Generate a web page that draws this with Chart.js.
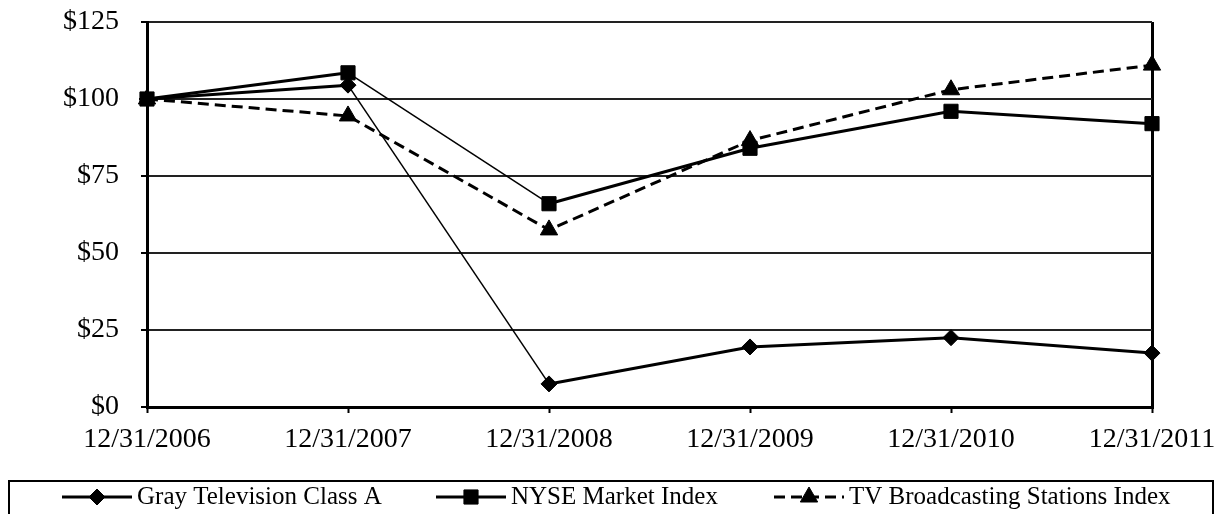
<!DOCTYPE html>
<html>
<head>
  <meta charset="UTF-8">
  <title>Cumulative Total Return</title>
  <script src="https://cdn.jsdelivr.net/npm/chart.js"></script>
  <style>
    body { margin: 0; background: #fff; }
  </style>
</head>
<body>
  <canvas id="returnChart" width="1221" height="514"></canvas>

  <script>
    const dates = ['12/31/2006', '12/31/2007', '12/31/2008', '12/31/2009', '12/31/2010', '12/31/2011'];
    const grayTv = [100, 104.5, 7.5, 19.5, 22.5, 17.5];
    const nyseIndex = [100, 108.5, 66, 84, 96, 92];
    const tvStations = [100, 94.5, 57.5, 86.5, 103, 111];

    const serif = '"Liberation Serif", "Times New Roman", serif';

    // legend drawn inside a box under the axis, line sample + marker + text
    const boxLegend = {
      id: 'boxLegend',
      afterDraw(chart) {
        const ctx = chart.ctx;
        const starts = [62, 436, 774];
        const y = 497;
        ctx.save();
        ctx.strokeStyle = '#000';
        ctx.lineWidth = 2;
        ctx.strokeRect(9, 481, 1204, 60);
        chart.data.datasets.forEach((ds, i) => {
          const x0 = starts[i];
          ctx.strokeStyle = '#000';
          ctx.fillStyle = '#000';
          ctx.lineWidth = 3;
          ctx.setLineDash(ds.borderDash || []);
          ctx.beginPath();
          ctx.moveTo(x0, y);
          ctx.lineTo(x0 + 70, y);
          ctx.stroke();
          ctx.setLineDash([]);
          ctx.lineWidth = 1;
          Chart.helpers.drawPoint(ctx, {
            pointStyle: ds.pointStyle,
            radius: ds.pointRadius,
            rotation: 0,
            borderWidth: 1
          }, x0 + 35, y);
          ctx.font = '25px ' + serif;
          ctx.textBaseline = 'middle';
          ctx.fillText(ds.label, x0 + 75, y);
        });
        ctx.restore();
      }
    };

    const thinSteep = w => ({ borderWidth: c => c.p0DataIndex === 1 ? 1.5 : w });

    new Chart(document.getElementById('returnChart'), {
      type: 'line',
      data: {
        labels: dates,
        datasets: [{
          label: 'Gray Television Class A',
          data: grayTv,
          borderColor: '#000',
          backgroundColor: '#000',
          borderWidth: 3,
          pointStyle: 'rectRot',
          pointRadius: 8,
          pointBorderWidth: 1,
          segment: thinSteep(3)
        }, {
          label: 'NYSE Market Index',
          data: nyseIndex,
          borderColor: '#000',
          backgroundColor: '#000',
          borderWidth: 3,
          pointStyle: 'rect',
          pointRadius: 10,
          pointBorderWidth: 1,
          segment: thinSteep(3)
        }, {
          label: 'TV Broadcasting Stations Index',
          data: tvStations,
          borderColor: '#000',
          backgroundColor: '#000',
          borderWidth: 3,
          borderDash: [11, 6],
          pointStyle: 'triangle',
          pointRadius: 10,
          pointBorderWidth: 1
        }]
      },
      options: {
        responsive: false,
        animation: false,
        devicePixelRatio: 1,
        layout: { padding: { top: 22, right: 69, left: 0, bottom: 0 } },
        plugins: {
          legend: { display: false },
          tooltip: { enabled: false }
        },
        scales: {
          x: {
            offset: false,
            afterFit: s => { s.height = 107; s.paddingLeft = 0; s.paddingRight = 0; },
            border: { color: '#000', width: 3 },
            grid: {
              color: c => c.index === 5 ? '#000' : 'rgba(0,0,0,0)',
              lineWidth: 3,
              tickColor: '#000',
              tickWidth: 2,
              tickLength: 6
            },
            ticks: {
              color: '#000',
              font: { family: serif, size: 28 },
              padding: 10,
              maxRotation: 0
            }
          },
          y: {
            min: 0,
            max: 125,
            afterFit: s => { s.width = 147; s.paddingTop = 0; s.paddingBottom = 0; },
            border: { color: '#000', width: 3 },
            grid: {
              color: '#222',
              lineWidth: 2,
              tickColor: '#000',
              tickLength: 6
            },
            ticks: {
              stepSize: 25,
              color: '#000',
              font: { family: serif, size: 28 },
              padding: 22,
              callback: v => '$' + v
            }
          }
        }
      },
      plugins: [boxLegend]
    });
  </script>
</body>
</html>
